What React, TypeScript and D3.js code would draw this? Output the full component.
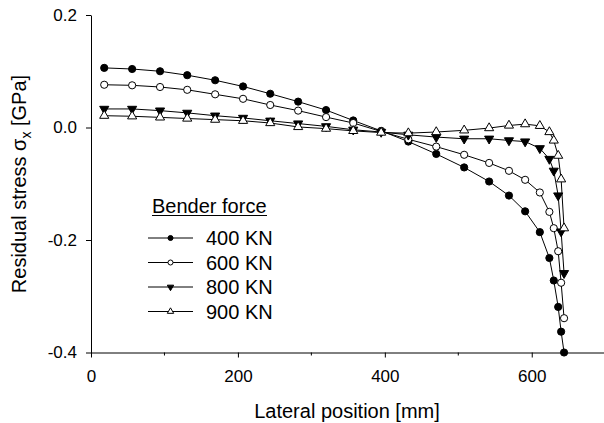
import { useEffect, useRef } from 'react';
import * as d3 from 'd3';

// lateral positions (mm), shared by all series
const positions = [18, 56, 94, 131, 169, 207, 244, 282, 320, 357, 395, 432, 470, 508, 542, 569, 591, 611, 624, 630, 636, 640, 644];

// residual stress (GPa) for each bender force
const stress400 = [0.106, 0.104, 0.1, 0.093, 0.084, 0.073, 0.06, 0.046, 0.031, 0.0125, -0.006, -0.025, -0.047, -0.071, -0.096, -0.121, -0.149, -0.186, -0.232, -0.272, -0.319, -0.363, -0.4];
const stress600 = [0.076, 0.075, 0.072, 0.067, 0.059, 0.051, 0.04, 0.03, 0.0185, 0.008, -0.007, -0.021, -0.034, -0.0485, -0.063, -0.077, -0.093, -0.1155, -0.15, -0.179, -0.22, -0.276, -0.339];
const stress800 = [0.033, 0.033, 0.03, 0.026, 0.021, 0.017, 0.012, 0.007, 0.002, -0.004, -0.008, -0.013, -0.017, -0.02, -0.02, -0.023, -0.025, -0.037, -0.056, -0.077, -0.121, -0.185, -0.259];
const stress900 = [0.021, 0.02, 0.018, 0.016, 0.014, 0.012, 0.008, 0.001, -0.002, -0.006, -0.009, -0.01, -0.008, -0.005, -0.001, 0.0036, 0.006, 0.003, -0.008, -0.023, -0.05, -0.092, -0.179];

const seriesNames = ['400 KN', '600 KN', '800 KN', '900 KN'];
const xTicks = [0, 200, 400, 600];
const xMinorTicks = [100, 300, 500];
const yTicks = [-0.4, -0.2, 0.0, 0.2];

const App = () => {
    const svgRef = useRef<SVGSVGElement>(null);

    useEffect(() => {
        const svg = d3.select(svgRef.current);
        svg.selectAll('*').remove();

        const width = 604;
        const height = 423;
        const font = 'Liberation Sans, Arial, sans-serif';

        const x = d3.scaleLinear().domain([0, 700]).range([91, 605.2]);
        const y = d3.scaleLinear().domain([-0.4, 0.2]).range([352.5, 15]);

        svg.attr('width', width).attr('height', height);

        // ==========================================
        // AXES
        // ==========================================
        const gx = svg.append('g').attr('transform', `translate(0, ${y(-0.4)})`);
        gx.call(
            d3.axisBottom(x).tickValues(xTicks).tickSize(5).tickSizeOuter(0).tickPadding(12)
                .tickFormat((d) => String(d))
        );
        gx.selectAll('.minor')
            .data(xMinorTicks)
            .enter()
            .append('line')
            .attr('x1', (d) => x(d))
            .attr('x2', (d) => x(d))
            .attr('y1', 0)
            .attr('y2', 3)
            .attr('stroke', '#000');

        const gy = svg.append('g').attr('transform', `translate(${x(0)}, 0)`);
        gy.call(
            d3.axisLeft(y).tickValues(yTicks).tickSize(5).tickSizeOuter(0).tickPadding(9)
                .tickFormat((d) => (+d).toFixed(1))
        );

        svg.selectAll('.tick text')
            .attr('font-family', font)
            .attr('font-size', 17)
            .attr('fill', '#000');
        svg.selectAll('.domain, .tick line').attr('stroke', '#000');

        // axis titles
        svg.append('text')
            .attr('x', 347)
            .attr('y', 418)
            .attr('text-anchor', 'middle')
            .attr('font-family', font)
            .attr('font-size', 20)
            .text('Lateral position [mm]');

        const yt = svg.append('text')
            .attr('transform', 'translate(26, 184) rotate(-90)')
            .attr('text-anchor', 'middle')
            .attr('font-family', font)
            .attr('font-size', 20);
        yt.append('tspan').text('Residual stress ');
        yt.append('tspan').text('σ');
        yt.append('tspan').attr('font-size', 14).attr('dy', 5).text('x');
        yt.append('tspan').attr('dy', -5).text(' [GPa]');

        // ==========================================
        // SERIES
        // ==========================================
        const allSeries = [stress400, stress600, stress800, stress900];

        const drawMarker = (g: any, i: number, cx: number, cy: number, scale: number) => {
            if (i < 2) {
                g.append('circle')
                    .attr('cx', cx)
                    .attr('cy', cy)
                    .attr('r', 3.6 * scale)
                    .attr('fill', i === 0 ? '#000' : '#fff')
                    .attr('stroke', '#000')
                    .attr('stroke-width', 1);
            } else {
                const sym = d3.symbol().type(d3.symbolTriangle).size(36 * scale * scale);
                g.append('path')
                    .attr('d', sym())
                    .attr('transform', `translate(${cx}, ${cy}) rotate(${i === 2 ? 180 : 0})`)
                    .attr('fill', i === 2 ? '#000' : '#fff')
                    .attr('stroke', '#000')
                    .attr('stroke-width', 1);
            }
        };

        const line = d3.line<number>()
            .x((_, j) => x(positions[j]))
            .y((d) => y(d));

        allSeries.forEach((vals) => {
            svg.append('path')
                .attr('d', line(vals))
                .attr('fill', 'none')
                .attr('stroke', '#000')
                .attr('stroke-width', 1);
        });

        allSeries.forEach((vals, i) => {
            const g = svg.append('g');
            vals.forEach((v, j) => drawMarker(g, i, x(positions[j]), y(v), 1));
        });

        // ==========================================
        // LEGEND
        // ==========================================
        const lg = svg.append('g');
        lg.append('text')
            .attr('x', 152)
            .attr('y', 213)
            .attr('font-family', font)
            .attr('font-size', 20)
            .text('Bender force');
        lg.append('line')
            .attr('x1', 152)
            .attr('x2', 267)
            .attr('y1', 215.5)
            .attr('y2', 215.5)
            .attr('stroke', '#000');

        seriesNames.forEach((name, i) => {
            const cy = 238 + i * 24.5;
            lg.append('line')
                .attr('x1', 148)
                .attr('x2', 193)
                .attr('y1', cy)
                .attr('y2', cy)
                .attr('stroke', '#000');
            drawMarker(lg, i, 170.5, cy, 0.7);
            lg.append('text')
                .attr('x', 206)
                .attr('y', cy + 7)
                .attr('font-family', font)
                .attr('font-size', 20)
                .text(name);
        });
    }, []);

    return (
        <svg
            ref={svgRef}
            style={{ position: 'absolute', left: 0, top: 0, background: '#fff' }}
        ></svg>
    );
};

export default App;
